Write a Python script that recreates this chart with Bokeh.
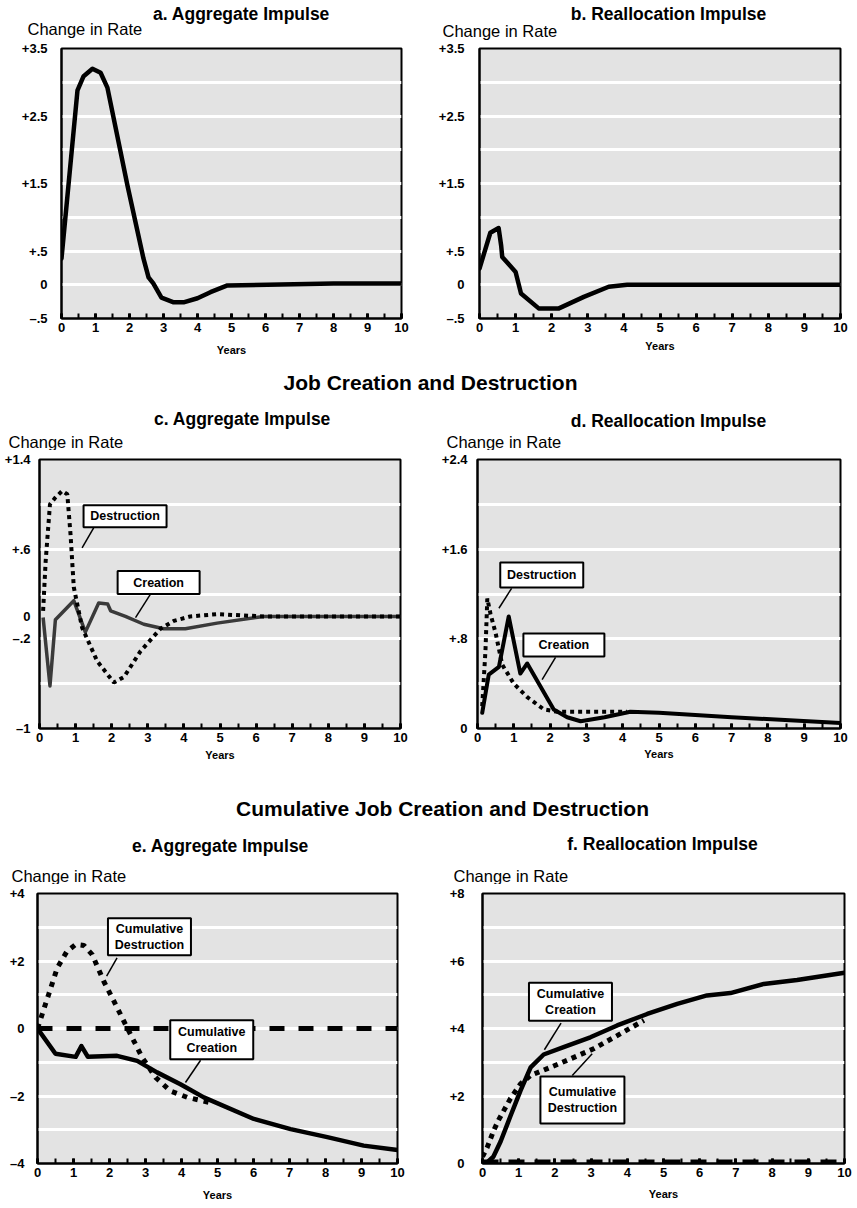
from bokeh.plotting import figure
from bokeh.layouts import column, row
from bokeh.models import Range1d, FixedTicker, SingleIntervalTicker, Label
from bokeh.core.properties import value
from bokeh.embed import file_html
from bokeh.resources import INLINE

FONT = "Liberation Sans"
BG = "#e3e3e3"

# ---------------- data ----------------
# a. Aggregate impulse (reallocation measure)
a_years = [0, 0.47, 0.65, 0.91, 1.15, 1.35, 1.94, 2.41, 2.56, 2.7, 2.94, 3.3, 3.59, 4.0, 4.38, 4.88, 6.06, 8.0, 10.0]
a_rate = [0.39, 2.88, 3.09, 3.2, 3.14, 2.92, 1.47, 0.39, 0.11, 0.02, -0.19, -0.26, -0.26, -0.2, -0.11, -0.01, 0.0, 0.02, 0.02]

# b. Reallocation impulse
b_years = [0, 0.3, 0.53, 0.6, 0.63, 1.0, 1.15, 1.64, 2.2, 2.89, 3.58, 4.09, 10.0]
b_rate = [0.24, 0.77, 0.84, 0.58, 0.41, 0.19, -0.13, -0.35, -0.35, -0.18, -0.03, 0.0, 0.0]

# c. Job creation and destruction, aggregate impulse
c_years_destr = [0.1, 0.17, 0.29, 0.44, 0.63, 0.77, 0.86, 0.95, 1.18, 1.6, 2.06, 2.34, 2.8, 3.35, 3.72, 4.18, 4.92, 6.21, 10.0]
c_destruction = [0.05, 0.49, 1.0, 1.06, 1.12, 1.09, 0.73, 0.26, -0.10, -0.40, -0.59, -0.54, -0.31, -0.11, -0.04, 0.0, 0.02, 0.0, 0.0]
c_years_creat = [0.1, 0.29, 0.44, 0.95, 1.27, 1.64, 1.89, 1.97, 2.38, 2.89, 3.44, 4.04, 4.92, 6.21, 10.0]
c_creation = [-0.01, -0.62, -0.03, 0.14, -0.14, 0.12, 0.11, 0.05, 0.0, -0.07, -0.11, -0.11, -0.06, 0.0, 0.0]

# d. Job creation and destruction, reallocation impulse
d_years_destr = [0.13, 0.22, 0.27, 0.36, 0.5, 0.68, 1.0, 1.37, 1.83, 2.2, 3.3, 4.12]
d_destruction = [0.2, 0.7, 1.16, 1.02, 0.85, 0.57, 0.4, 0.28, 0.17, 0.15, 0.15, 0.15]
d_years_creat = [0.13, 0.31, 0.59, 0.86, 1.18, 1.37, 2.1, 2.47, 2.84, 3.5, 4.21, 5.0, 7.0, 10.0]
d_creation = [0.14, 0.48, 0.55, 1.0, 0.49, 0.58, 0.17, 0.1, 0.065, 0.1, 0.15, 0.14, 0.1, 0.05]

# e. Cumulative, aggregate impulse
e_years_destr = [0.0, 0.13, 0.31, 0.55, 0.82, 1.06, 1.29, 1.52, 1.84, 2.17, 2.49, 2.91, 3.28, 3.69, 4.16, 4.76]
e_destruction = [0.0, 0.42, 1.01, 1.8, 2.29, 2.49, 2.46, 2.19, 1.4, 0.71, 0.02, -0.86, -1.45, -1.85, -2.04, -2.19]
e_years_creat = [0.0, 0.5, 1.06, 1.22, 1.4, 2.21, 2.77, 3.32, 3.97, 4.62, 6.01, 7.03, 8.05, 9.06, 10.0]
e_creation = [0.0, -0.75, -0.84, -0.52, -0.84, -0.81, -0.96, -1.3, -1.65, -2.04, -2.68, -2.98, -3.22, -3.47, -3.6]
e_zero_years = [0.0, 10.0]
e_zero = [0.0, 0.0]

# f. Cumulative, reallocation impulse
f_years_creat = [0.1, 0.3, 0.5, 0.77, 1.05, 1.33, 1.69, 2.24, 2.98, 3.72, 4.55, 5.38, 6.2, 6.85, 7.77, 8.69, 10.0]
f_creation = [0.0, 0.2, 0.65, 1.4, 2.16, 2.85, 3.23, 3.45, 3.74, 4.09, 4.43, 4.73, 4.98, 5.05, 5.32, 5.44, 5.65]
f_years_destr = [0.0, 0.13, 0.31, 0.45, 0.77, 1.05, 1.33, 1.79, 2.43, 3.07, 3.72, 4.46]
f_destruction = [0.2, 0.48, 0.98, 1.3, 1.92, 2.36, 2.61, 2.81, 3.1, 3.4, 3.79, 4.24]
f_zero_years = [0.0, 10.0]
f_zero = [0.0, 0.0]

# axis ticks / labels
x_range = (0, 10)
ab_range = (-0.5, 3.5)
ab_grid = [0, 0.5, 1.0, 1.5, 2.0, 2.5, 3.0]
ab_ticks = [-0.5, 0, 0.5, 1.5, 2.5, 3.5]
ab_labels = ["\u2013.5", "0", "+.5", "+1.5", "+2.5", "+3.5"]
c_range = (-1, 1.4)
c_grid = [-0.6, -0.2, 0.2, 0.6, 1.0]
c_ticks = [-1, -0.2, 0, 0.6, 1.4]
c_labels = ["\u20131", "\u2013.2", "0", "+.6", "+1.4"]
d_range = (0, 2.4)
d_grid = [0.4, 0.8, 1.2, 1.6, 2.0]
d_ticks = [0, 0.8, 1.6, 2.4]
d_labels = ["0", "+.8", "+1.6", "+2.4"]
e_range = (-4, 4)
e_grid = [-3, -2, -1, 0, 1, 2, 3]
e_ticks = [-4, -2, 0, 2, 4]
e_labels = ["\u20134", "\u20132", "0", "+2", "+4"]
f_range = (0, 8)
f_grid = [1, 2, 3, 4, 5, 6, 7]
f_ticks = [0, 2, 4, 6, 8]
f_labels = ["0", "+2", "+4", "+6", "+8"]


def panel(width, height, left, top, fw, fh, yr, grid, ticks, labels, standoff, years_standoff):
    p = figure(width=width, height=height,
               x_range=Range1d(*x_range), y_range=Range1d(*yr),
               toolbar_location=None, output_backend="svg",
               min_border_left=left, min_border_right=width - left - fw,
               min_border_top=top, min_border_bottom=height - top - fh,
               background_fill_color=BG, border_fill_color="white",
               outline_line_color="black", outline_line_width=2)
    xa = p.xaxis[0]
    xa.ticker = SingleIntervalTicker(interval=1, num_minor_ticks=2)
    xa.major_tick_in = 5
    xa.major_tick_out = 0
    xa.minor_tick_in = 5
    xa.minor_tick_out = 0
    xa.major_tick_line_width = 3
    xa.minor_tick_line_width = 2
    xa.major_tick_line_color = "black"
    xa.minor_tick_line_color = "black"
    xa.axis_line_color = "black"
    xa.axis_line_width = 2
    xa.major_label_standoff = 4
    xa.major_label_text_font = FONT
    xa.major_label_text_font_style = "bold"
    xa.major_label_text_font_size = "13px"
    xa.major_label_text_color = "black"
    xa.axis_label = "Years"
    xa.axis_label_standoff = years_standoff
    xa.axis_label_text_font = FONT
    xa.axis_label_text_font_style = "bold"
    xa.axis_label_text_font_size = "11px"
    xa.axis_label_text_color = "black"

    ya = p.yaxis[0]
    ya.ticker = FixedTicker(ticks=ticks)
    ya.major_label_overrides = {t: s for t, s in zip(ticks, labels)}
    ya.major_tick_line_color = None
    ya.minor_tick_line_color = None
    ya.axis_line_color = "black"
    ya.axis_line_width = 2
    ya.major_label_standoff = standoff
    ya.major_label_text_font = FONT
    ya.major_label_text_font_style = "bold"
    ya.major_label_text_font_size = "13px"
    ya.major_label_text_color = "black"

    p.xgrid.visible = False
    p.ygrid.ticker = FixedTicker(ticks=grid)
    p.ygrid.grid_line_color = "white"
    p.ygrid.grid_line_width = 3
    return p


def callout(p, boxes, size="12.5px"):
    for b in boxes:
        p.segment(x0=[b["lead"][0]], y0=[b["lead"][1]], x1=[b["lead"][2]], y1=[b["lead"][3]],
                  line_color="black", line_width=1.5)
        p.rect(x=[b["x"]], y=[b["y"]], width=b["w"], height=b["h"],
               width_units="screen", height_units="screen",
               fill_color="white", line_color="black", line_width=2)
        p.text(x=[b["x"]], y=[b["y"]], text=[b["text"]], text_align="center",
               text_baseline="middle", text_font=value(FONT), text_font_style="bold",
               text_font_size=size, text_color="black", text_line_height=1.15)


def header(height, items):
    """A blank strip holding headings; coordinates are in pixels from its top-left."""
    h = figure(width=857, height=height, x_range=Range1d(0, 857), y_range=Range1d(height, 0),
               x_axis_type=None, y_axis_type=None, toolbar_location=None,
               output_backend="svg", min_border=0, outline_line_color=None)
    h.xgrid.visible = False
    h.ygrid.visible = False
    for text, x, y, align, size, style in items:
        h.add_layout(Label(x=x, y=y, text=text, text_align=align, text_baseline="middle",
                           text_font=FONT, text_font_style=style, text_font_size=size,
                           text_color="black"))
    return h


SOLID = dict(line_color="black", line_join="round", line_cap="round")

# ---- a ----
pa = panel(430, 320, 61, 8, 340, 270, ab_range, ab_grid, ab_ticks, ab_labels, 8, 9)
pa.line(a_years, a_rate, line_width=4.5, **SOLID)

# ---- b ----
pb = panel(427, 320, 49, 8, 361, 270, ab_range, ab_grid, ab_ticks, ab_labels, 9, 5)
pb.line(b_years, b_rate, line_width=4.5, **SOLID)

# ---- c ----
pc = panel(430, 320, 39, 8, 361, 270, c_range, c_grid, c_ticks, c_labels, 3, 4)
pc.line(c_years_creat, c_creation, line_width=3.5, line_color="#3a3a3a", line_join="round")
pc.line(c_years_destr, c_destruction, line_width=4, line_color="black", line_dash="4 4")
callout(pc, [
    dict(text="Destruction", x=2.37, y=0.893, w=83, h=22, lead=(1.50, 0.789, 1.18, 0.611)),
    dict(text="Creation", x=3.30, y=0.302, w=82, h=23, lead=(3.07, 0.197, 2.66, -0.011)),
])

# ---- d ----
pd_ = panel(427, 320, 47, 9, 363, 270, d_range, d_grid, d_ticks, d_labels, 4, 3)
pd_.line(d_years_creat, d_creation, line_width=4, **SOLID)
pd_.line(d_years_destr, d_destruction, line_width=4, line_color="black", line_dash="4 4")
callout(pd_, [
    dict(text="Destruction", x=1.77, y=1.369, w=83, h=25, lead=(0.94, 1.251, 0.59, 1.073)),
    dict(text="Creation", x=2.38, y=0.744, w=81, h=23, lead=(2.15, 0.634, 1.78, 0.436)),
])

# ---- e ----
pe = panel(430, 322, 37, 8, 360, 271, e_range, e_grid, e_ticks, e_labels, 7, 9)
pe.line(e_zero_years, e_zero, line_width=5, line_color="black", line_dash="15 14")
pe.line(e_years_creat, e_creation, line_width=4.5, **SOLID)
pe.line(e_years_destr, e_destruction, line_width=5, line_color="black", line_dash="5 6")
callout(pe, [
    dict(text="Cumulative\nDestruction", x=3.11, y=2.72, w=83, h=37, lead=(2.21, 2.09, 1.92, 1.55)),
    dict(text="Cumulative\nCreation", x=4.84, y=-0.33, w=83, h=39, lead=(4.53, -0.94, 4.11, -1.6)),
])

# ---- f ----
pf = panel(427, 322, 52, 9, 362, 270, f_range, f_grid, f_ticks, f_labels, 12, 8)
pf.line(f_zero_years, f_zero, line_width=8, line_color="black", line_dash="16 10")
pf.line(f_years_creat, f_creation, line_width=4.5, **SOLID)
pf.line(f_years_destr, f_destruction, line_width=5, line_color="black", line_dash="5 5")
callout(pf, [
    dict(text="Cumulative\nCreation", x=2.43, y=4.79, w=83, h=38, lead=(2.17, 4.16, 1.71, 3.37)),
    dict(text="Cumulative\nDestruction", x=2.76, y=1.88, w=84, h=47, lead=(3.03, 3.25, 2.48, 2.61)),
])

# ---- headings (text, x, y, align, size, style) ----
h1 = header(40, [
    ("a. Aggregate Impulse", 241, 13, "center", "17.5px", "bold"),
    ("Change in Rate", 27, 28, "left", "16.5px", "normal"),
    ("b. Reallocation Impulse", 668, 13, "center", "17.5px", "bold"),
    ("Change in Rate", 442, 30, "left", "16.5px", "normal"),
])
h2 = header(90, [
    ("Job Creation and Destruction", 430, 22, "center", "21px", "bold"),
    ("c. Aggregate Impulse", 242, 58, "center", "17.5px", "bold"),
    ("d. Reallocation Impulse", 668, 60, "center", "17.5px", "bold"),
    ("Change in Rate", 8, 81, "left", "16.5px", "normal"),
    ("Change in Rate", 446, 81, "left", "16.5px", "normal"),
])
h3 = header(114, [
    ("Cumulative Job Creation and Destruction", 442, 38, "center", "21px", "bold"),
    ("e. Aggregate Impulse", 220, 75, "center", "17.5px", "bold"),
    ("f. Reallocation Impulse", 662, 73, "center", "17.5px", "bold"),
    ("Change in Rate", 11, 105, "left", "16.5px", "normal"),
    ("Change in Rate", 453, 105, "left", "16.5px", "normal"),
])

layout = column(h1, row(pa, pb), h2, row(pc, pd_), h3, row(pe, pf))

open("out.html", "w").write(file_html(layout, INLINE))
